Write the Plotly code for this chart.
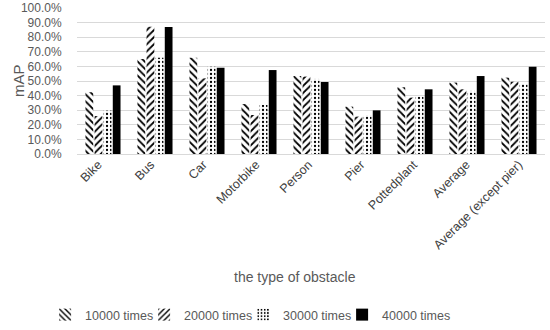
import plotly.graph_objects as go

categories = ["Bike", "Bus", "Car", "Motorbike", "Person", "Pier", "Pottedplant", "Average", "Average (except pier)"]
s10000 = [42.3, 65.0, 66.0, 34.2, 53.4, 32.4, 45.7, 48.9, 52.3]
s20000 = [26.0, 87.2, 51.8, 26.7, 53.0, 25.6, 38.6, 44.3, 49.5]
s30000 = [29.7, 66.0, 59.8, 33.6, 51.4, 26.7, 39.3, 43.2, 48.0]
s40000 = [47.0, 87.0, 59.1, 57.5, 49.3, 29.9, 44.3, 53.4, 59.8]
series_names = ["10000 times", "20000 times", "30000 times", "40000 times"]

font = "Liberation Sans, Arial, sans-serif"
grey = "#595959"

fig = go.Figure()
styles = [
    dict(shape="\\", size=5, solidity=0.35),
    dict(shape="/", size=5, solidity=0.35),
    dict(shape=".", size=4, solidity=0.25),
    None,
]
legend_widths = [54, 54, 54, 75]
for name, vals, st, lw in zip(series_names, [s10000, s20000, s30000, s40000], styles, legend_widths):
    if st is None:
        marker = dict(color="black", line=dict(width=0))
    else:
        marker = dict(color="white", line=dict(width=0),
                      pattern=dict(shape=st["shape"], fgcolor="black", bgcolor="white",
                                   size=st["size"], solidity=st["solidity"], fillmode="replace"))
    fig.add_trace(go.Bar(x=categories, y=[v / 100 for v in vals], name=name, marker=marker,
                         legendwidth=lw))

# invisible carrier trace so the label axis (x2) is drawn
fig.add_trace(go.Scatter(x=list(range(len(categories))), y=[None] * len(categories),
                         xaxis="x2", yaxis="y", mode="markers", showlegend=False,
                         hoverinfo="skip"))

fig.update_layout(
    width=550, height=330,
    margin=dict(l=77, r=5, t=8, b=176, autoexpand=False),
    paper_bgcolor="white", plot_bgcolor="white",
    barmode="group", bargap=0.3, bargroupgap=0.15,
    font=dict(family=font, color=grey, size=12),
    showlegend=True,
    legend=dict(orientation="h", xref="container", x=0.082, xanchor="left",
                yref="container", y=-0.022, yanchor="bottom",
                font=dict(size=12.5, color=grey), itemwidth=30, tracegroupgap=0),
    annotations=[
        dict(text="the type of obstacle", xref="paper", yref="paper",
             x=0.466, y=(154 - 277) / 146, yanchor="middle", showarrow=False,
             font=dict(size=14, color=grey)),
        dict(text="mAP", xref="paper", yref="paper", x=(18 - 77) / 468, y=0.5,
             xanchor="center", yanchor="middle", textangle=-90, showarrow=False,
             font=dict(size=15, color=grey)),
    ],
    xaxis=dict(showticklabels=False, showline=True, linecolor="#d9d9d9",
               ticks="", automargin=False),
    xaxis2=dict(overlaying="x", anchor="y", side="bottom", domain=[0, 0.944],
                range=[-0.403, 8.5], tickmode="array", tickvals=list(range(len(categories))),
                ticktext=categories, tickangle=-45, showgrid=False, showline=False,
                zeroline=False, ticks="", automargin=False,
                tickfont=dict(size=12.5, color="#404040")),
)
fig.update_yaxes(range=[0, 1.0], dtick=0.1, tickformat=".1%", showgrid=True, gridcolor="#d9d9d9",
                 gridwidth=1, zeroline=False, automargin=False,
                 ticks="outside", ticklen=12, tickcolor="rgba(0,0,0,0)",
                 tickfont=dict(size=12, color=grey))

fig.write_html("out.html", config={"displayModeBar": False},
               post_script="document.body.style.margin='0';")
